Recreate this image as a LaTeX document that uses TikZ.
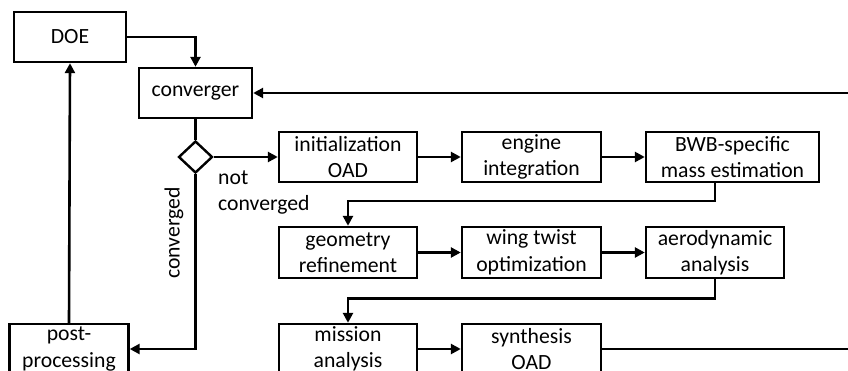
\documentclass[tikz,border=0pt]{standalone}
\usepackage{fontspec}
\setmainfont{Carlito}
\usetikzlibrary{arrows.meta,shapes.geometric}
\begin{document}
\begin{tikzpicture}[x=1pt,y=-1pt,
  txt/.style={font=\fontsize{21.7}{26.5}\selectfont},
  box/.style={txt, draw, line width=2.4pt, minimum height=50pt, align=center, inner sep=0pt},
  conn/.style={line width=2.6pt, -{Triangle[length=10pt,width=10pt]}},
  plain/.style={line width=2.6pt},
  ]
\useasboundingbox (0,0) rectangle (848,371);
\clip (0,0) rectangle (848,371);
\node[box, minimum width=112pt] (doe) at (70,37) {DOE};
\node[box, minimum width=113pt] (conv) at (195.5,93) {converger};
\node[draw, diamond, line width=2.4pt, minimum width=34pt, minimum height=32pt, inner sep=0pt] (dia) at (195.5,157) {};
\node[box, minimum width=138pt] (init) at (348,157) {initialization\\OAD};
\node[box, minimum width=139pt] (eng) at (531.5,157) {engine\\integration};
\node[box, minimum width=173pt] (bwb) at (732.5,157) {BWB-specific\\mass estimation};
\node[box, minimum width=138pt, minimum height=51pt] (geom) at (348,252.5) {geometry\\refinement};
\node[box, minimum width=139pt, minimum height=51pt] (wing) at (531.5,252.5) {wing twist\\optimization};
\node[box, minimum width=138pt, minimum height=51pt] (aero) at (715,252.5) {aerodynamic\\analysis};
\node[box, minimum width=138pt] (miss) at (348,349) {mission\\analysis};
\node[box, minimum width=139pt] (synth) at (531.5,349) {synthesis\\OAD};
\node[box, minimum width=119pt] (post) at (69,349) {post-\\processing};
\coordinate (r1) at (875,93);
\coordinate (r2) at (875,349);
\node[txt, anchor=base west, inner sep=0pt] (lnot) at (218,185) {not};
\node[txt, anchor=base west, inner sep=0pt] (lnc) at (218,211) {converged};
\node[txt, rotate=90, inner sep=0pt] (lconv) at (174,233) {converged};
\draw[conn] (doe.east) -| (conv.north);
\draw[plain] (conv.south) -- (dia.north);
\draw[conn] (dia.east) -- (init.west);
\draw[conn] (dia.south) |- (post.east);
\draw[conn] (post.north) -- (doe.south);
\draw[conn] (init) -- (eng);
\draw[conn] (eng) -- (bwb);
\draw[conn] (aero.north|-bwb.south) -- ++(0,18) -| (geom.north);
\draw[conn] (geom) -- (wing);
\draw[conn] (wing) -- (aero);
\draw[conn] (aero.south) -- ++(0,19) -| (miss.north);
\draw[conn] (miss) -- (synth);
\draw[conn] (synth.east) -- (r2) -- (r1) -- (conv.east);
\end{tikzpicture}
\end{document}
